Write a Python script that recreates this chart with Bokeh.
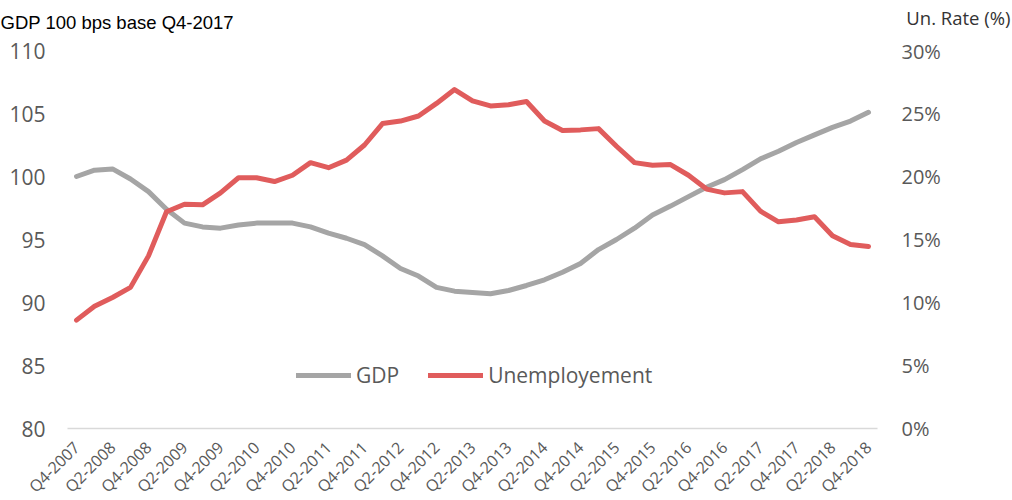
import math
from bokeh.plotting import figure
from bokeh.layouts import column
from bokeh.models import (Range1d, LinearAxis, FixedTicker, PrintfTickFormatter,
                          Legend, LegendItem, Label, ColumnDataSource)
from bokeh.embed import file_html
from bokeh.resources import INLINE

quarters = ["Q4-2007",
            "Q1-2008", "Q2-2008", "Q3-2008", "Q4-2008",
            "Q1-2009", "Q2-2009", "Q3-2009", "Q4-2009",
            "Q1-2010", "Q2-2010", "Q3-2010", "Q4-2010",
            "Q1-2011", "Q2-2011", "Q3-2011", "Q4-2011",
            "Q1-2012", "Q2-2012", "Q3-2012", "Q4-2012",
            "Q1-2013", "Q2-2013", "Q3-2013", "Q4-2013",
            "Q1-2014", "Q2-2014", "Q3-2014", "Q4-2014",
            "Q1-2015", "Q2-2015", "Q3-2015", "Q4-2015",
            "Q1-2016", "Q2-2016", "Q3-2016", "Q4-2016",
            "Q1-2017", "Q2-2017", "Q3-2017", "Q4-2017",
            "Q1-2018", "Q2-2018", "Q3-2018", "Q4-2018"]

gdp = [100.0, 100.5, 100.6, 99.8, 98.8, 97.4, 96.3, 96.0, 95.9, 96.15,
       96.3, 96.3, 96.3, 96.0, 95.5, 95.1, 94.6, 93.7, 92.7, 92.1,
       91.2, 90.9, 90.8, 90.7, 90.95, 91.35, 91.8, 92.4, 93.1, 94.2,
       95.0, 95.9, 96.95, 97.65, 98.4, 99.15, 99.75, 100.55, 101.4, 102.0,
       102.7, 103.3, 103.9, 104.4, 105.1]

unemployment = [8.6, 9.7, 10.4, 11.2, 13.7, 17.2, 17.8, 17.75, 18.7, 19.9,
                19.9, 19.6, 20.1, 21.1, 20.7, 21.3, 22.5, 24.2, 24.4, 24.8,
                25.8, 26.9, 26.0, 25.6, 25.7, 25.95, 24.4, 23.65, 23.7, 23.8,
                22.4, 21.1, 20.9, 20.95, 20.1, 19.0, 18.7, 18.8, 17.25, 16.4,
                16.55, 16.8, 15.3, 14.6, 14.45]

gdp_ticks = [80, 85, 90, 95, 100, 105, 110]
rate_ticks = [0, 5, 10, 15, 20, 25, 30]

left_title = "GDP 100 bps base Q4-2017"
right_title = "Un. Rate (%)"

FONT = "Open Sans"
TICK_COLOR = "#595959"

# ---- header strip holding the two axis titles ----
HEAD_W, HEAD_H = 1012, 37
head = figure(width=HEAD_W, height=HEAD_H, min_border=0,
              x_range=Range1d(0, HEAD_W), y_range=Range1d(HEAD_H, 0),
              x_axis_type=None, y_axis_type=None,
              output_backend="svg", toolbar_location=None,
              outline_line_color=None, background_fill_color="white",
              border_fill_color="white")
head.title.visible = False
head.grid.visible = False
if "frame_align" in head.properties():
    head.frame_align = False
head.add_layout(Label(x=0, y=21.5, text=left_title,
                      text_font="Liberation Sans", text_font_size="18.5px",
                      text_color="black", text_baseline="alphabetic"))
head.add_layout(Label(x=1010, y=16.5, text=right_title,
                      text_font=FONT, text_font_size="18.5px",
                      text_color="#333333", text_align="right",
                      text_baseline="alphabetic"))

# ---- main chart ----
x_idx = list(range(len(quarters)))
src = ColumnDataSource(dict(x=x_idx, gdp=gdp, rate=unemployment))

p = figure(frame_width=810, frame_height=378,
           min_border_left=67, min_border_right=125,
           min_border_top=13, min_border_bottom=60,
           x_range=Range1d(-0.5, len(quarters) - 0.5),
           y_range=Range1d(gdp_ticks[0], gdp_ticks[-1]),
           output_backend="svg", toolbar_location=None,
           outline_line_color=None, background_fill_color="white",
           border_fill_color="white")
p.title.visible = False
p.grid.visible = False
if "frame_align" in p.properties():
    p.frame_align = False
p.extra_y_ranges = {"rate": Range1d(rate_ticks[0], rate_ticks[-1])}

# left axis
p.yaxis.ticker = FixedTicker(ticks=gdp_ticks)
p.yaxis.axis_line_color = None
p.yaxis.major_tick_line_color = None
p.yaxis.minor_tick_line_color = None
p.yaxis.major_label_text_font = FONT
p.yaxis.major_label_text_font_size = "21px"
p.yaxis.major_label_text_color = TICK_COLOR
p.yaxis.major_label_standoff = 16

# right axis
ax_r = LinearAxis(y_range_name="rate", ticker=FixedTicker(ticks=rate_ticks),
                  formatter=PrintfTickFormatter(format="%d%%"),
                  axis_line_color=None, major_tick_line_color=None,
                  minor_tick_line_color=None,
                  major_label_text_font=FONT,
                  major_label_text_font_size="20px",
                  major_label_text_color=TICK_COLOR,
                  major_label_standoff=18)
p.add_layout(ax_r, "right")

# bottom axis
even = list(range(0, len(quarters), 2))
p.xaxis.ticker = FixedTicker(ticks=even)
p.xaxis.major_label_overrides = {i: quarters[i] for i in even}
p.xaxis.major_label_orientation = math.pi / 4
p.xaxis.axis_line_color = "#D9D9D9"
p.xaxis.axis_line_width = 1.5
p.xaxis.major_tick_line_color = None
p.xaxis.minor_tick_line_color = None
p.xaxis.major_label_text_font = FONT
p.xaxis.major_label_text_font_size = "16px"
p.xaxis.major_label_text_color = TICK_COLOR
p.xaxis.major_label_standoff = 10

r1 = p.line(x="x", y="gdp", source=src, line_color="#A5A5A5", line_width=5,
            line_cap="round", line_join="round")
r2 = p.line(x="x", y="rate", source=src, y_range_name="rate",
            line_color="#E05C5C", line_width=5,
            line_cap="round", line_join="round")

legend = Legend(items=[LegendItem(label="GDP", renderers=[r1]),
                       LegendItem(label="Unemployement", renderers=[r2])],
                orientation="horizontal", location=(229, 39),
                glyph_width=55, glyph_height=20, label_standoff=5,
                spacing=29, padding=0, margin=0,
                border_line_alpha=0, background_fill_alpha=0,
                label_text_font=FONT, label_text_font_size="21px",
                label_text_color=TICK_COLOR)
p.add_layout(legend)

layout = column(head, p, spacing=0)
open("out.html", "w").write(file_html(layout, INLINE))
